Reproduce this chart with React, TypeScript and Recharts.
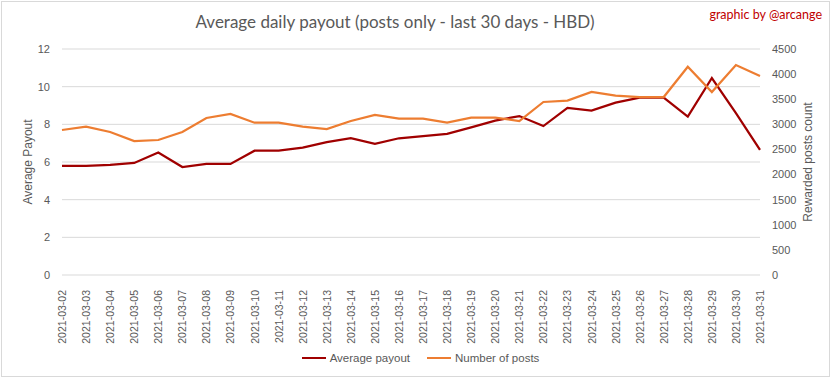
import { LineChart, Line, XAxis, YAxis, CartesianGrid, Legend } from 'recharts'

const dates = [
  '2021-03-02', '2021-03-03', '2021-03-04', '2021-03-05', '2021-03-06', '2021-03-07',
  '2021-03-08', '2021-03-09', '2021-03-10', '2021-03-11', '2021-03-12', '2021-03-13',
  '2021-03-14', '2021-03-15', '2021-03-16', '2021-03-17', '2021-03-18', '2021-03-19',
  '2021-03-20', '2021-03-21', '2021-03-22', '2021-03-23', '2021-03-24', '2021-03-25',
  '2021-03-26', '2021-03-27', '2021-03-28', '2021-03-29', '2021-03-30', '2021-03-31',
]

const avgPayout = [
  5.79, 5.8, 5.85, 5.95, 6.5, 5.73, 5.9, 5.9, 6.6, 6.6, 6.76, 7.06,
  7.27, 6.97, 7.26, 7.38, 7.49, 7.84, 8.2, 8.44, 7.91, 8.87, 8.73, 9.15,
  9.42, 9.42, 8.41, 10.46, 8.6, 6.64,
]

const postCount = [
  2887, 2953, 2847, 2668, 2688, 2847, 3126, 3206, 3032, 3032, 2953, 2907,
  3066, 3186, 3113, 3113, 3033, 3132, 3132, 3066, 3445, 3471, 3644, 3571,
  3544, 3544, 4148, 3644, 4181, 3962,
]

const payoutTicks = [0, 2, 4, 6, 8, 10, 12]
const countTicks = [0, 500, 1000, 1500, 2000, 2500, 3000, 3500, 4000, 4500]

const data = dates.map((d, i) => ({ date: d, payout: avgPayout[i], posts: postCount[i] }))

const GRAY = '#595959'
const FONT = '"Liberation Sans", Arial, sans-serif'

function DateTick(props: any) {
  const { x, y, payload } = props
  return (
    <text
      x={0}
      y={0}
      transform={`translate(${x + 4},${y + 7}) rotate(-90)`}
      textAnchor="end"
      fill={GRAY}
      fontSize={10.5}
      fontFamily={FONT}
    >
      {payload.value}
    </text>
  )
}

function LegendContent(props: any) {
  const { payload } = props
  return (
    <div style={{ display: 'flex', justifyContent: 'center', gap: 17, fontFamily: FONT, fontSize: 11.5, color: GRAY, paddingLeft: 8 }}>
      {payload.map((p: any) => (
        <div key={p.value} style={{ display: 'flex', alignItems: 'center' }}>
          <span style={{ display: 'inline-block', width: 24, height: 2.5, background: p.color, marginRight: 4 }} />
          <span>{p.value}</span>
        </div>
      ))}
    </div>
  )
}

export default function App() {
  return (
    <div style={{ position: 'absolute', left: 0, top: 0, width: 833, height: 379, background: '#fff' }}>
      <div
        style={{
          position: 'absolute', left: 1, top: 1, width: 829, height: 376,
          border: '1px solid #d9d9d9', boxSizing: 'border-box',
        }}
      />
      <div
        style={{
          position: 'absolute', left: 0, top: 11, width: 790, textAlign: 'center',
          fontFamily: 'Lato, sans-serif', fontSize: 17, color: GRAY,
        }}
      >
        Average daily payout (posts only - last 30 days - HBD)
      </div>
      <div
        style={{
          position: 'absolute', right: 11, top: 7, fontFamily: 'Lato, sans-serif',
          fontSize: 12.5, color: '#c00000',
        }}
      >
        graphic by @arcange
      </div>
      <LineChart
        width={833}
        height={379}
        data={data}
        margin={{ top: 49, right: 0, bottom: 5, left: 0 }}
        style={{ position: 'absolute', left: 0, top: 0 }}
      >
        <CartesianGrid vertical={false} stroke="#d9d9d9" yAxisId="left" />
        <XAxis
          dataKey="date"
          interval={0}
          axisLine={false}
          tickLine={false}
          height={77}
          tick={<DateTick />}
        />
        <YAxis
          yAxisId="left"
          orientation="left"
          width={62}
          domain={[0, 12]}
          ticks={payoutTicks}
          axisLine={false}
          tickLine={false}
          tickMargin={6}
          tick={{ fill: GRAY, fontSize: 11, fontFamily: FONT }}
          label={{
            value: 'Average Payout', angle: -90, position: 'center', dx: -3,
            style: { fill: GRAY, fontSize: 12, fontFamily: FONT },
          }}
        />
        <YAxis
          yAxisId="right"
          orientation="right"
          width={73}
          domain={[0, 4500]}
          ticks={countTicks}
          axisLine={false}
          tickLine={false}
          tickMargin={6}
          tick={{ fill: GRAY, fontSize: 11, fontFamily: FONT, textAnchor: 'start' }}
          label={{
            value: 'Rewarded posts count', angle: -90, position: 'center', dx: 11,
            style: { fill: GRAY, fontSize: 12, fontFamily: FONT },
          }}
        />
        <Legend verticalAlign="bottom" height={22} content={<LegendContent />} />
        <Line
          yAxisId="left"
          dataKey="payout"
          name="Average payout"
          stroke="#a00000"
          strokeWidth={2.25}
          dot={false}
          isAnimationActive={false}
        />
        <Line
          yAxisId="right"
          dataKey="posts"
          name="Number of posts"
          stroke="#ed7d31"
          strokeWidth={2.25}
          dot={false}
          isAnimationActive={false}
        />
      </LineChart>
    </div>
  )
}
